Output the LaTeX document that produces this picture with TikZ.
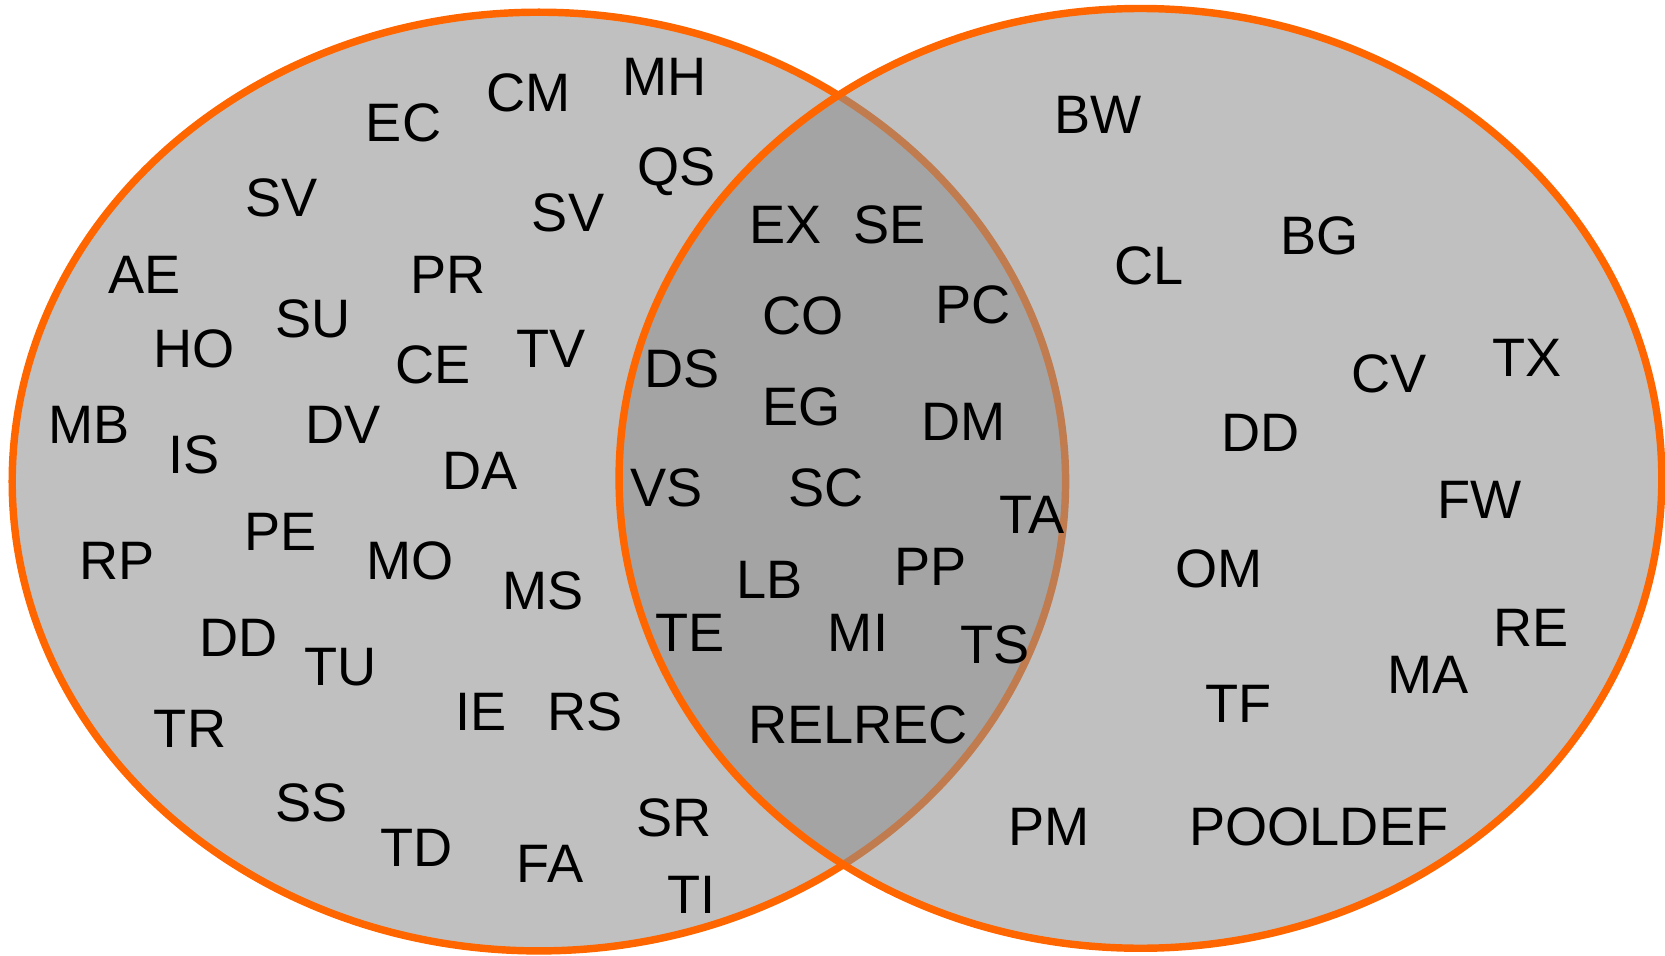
\documentclass[tikz,border=0pt]{standalone}
\usepackage{fontspec}
\setmainfont{Liberation Sans}
\definecolor{vorange}{HTML}{FF6600}
\definecolor{vfill}{gray}{0.555}
\begin{document}
\begin{tikzpicture}[x=1pt,y=-1pt,
  setshape/.style={fill=vfill,fill opacity=0.556,draw=vorange,draw opacity=1,line width=7pt},
  lbl/.style={inner sep=0pt,text height=36pt,text depth=0pt,font=\fontsize{51}{60}\selectfont}]
\useasboundingbox (0,0) rectangle (1568,900);
\path[setshape] (507.5,453.5) ellipse [x radius=496, y radius=442];
\path[setshape] (1074,450.5) ellipse [x radius=491, y radius=442.5];
% left only
\node[lbl] (ec) at (380,115) {EC};
\node[lbl] (cm) at (498,87) {CM};
\node[lbl] (mh) at (626,72) {MH};
\node[lbl] (sv1) at (265,186) {SV};
\node[lbl] (sv2) at (535,200) {SV};
\node[lbl] (qs) at (637,157) {QS};
\node[lbl] (ae) at (136,258) {AE};
\node[lbl] (pr) at (422,258) {PR};
\node[lbl] (su) at (295,300) {SU};
\node[lbl] (ho) at (183,328) {HO};
\node[lbl] (ce) at (408,343) {CE};
\node[lbl] (tv) at (519,328) {TV};
\node[lbl] (mb) at (84,400) {MB};
\node[lbl] (is) at (183,428) {IS};
\node[lbl] (dv) at (323,400) {DV};
\node[lbl] (da) at (452,443) {DA};
\node[lbl] (rp) at (110,528) {RP};
\node[lbl] (pe) at (264,500) {PE};
\node[lbl] (mo) at (386,528) {MO};
\node[lbl] (ms) at (511,556) {MS};
\node[lbl] (dd1) at (225,600) {DD};
\node[lbl] (tu) at (321,628) {TU};
\node[lbl] (tr) at (179,686) {TR};
\node[lbl] (ie) at (453,670) {IE};
\node[lbl] (rs) at (551,670) {RS};
\node[lbl] (ss) at (293,756) {SS};
\node[lbl] (td) at (392,798) {TD};
\node[lbl] (fa) at (518,813) {FA};
\node[lbl] (sr) at (635,770) {SR};
\node[lbl] (ti) at (651,842) {TI};
% intersection
\node[lbl] (ex) at (740,211) {EX};
\node[lbl] (se) at (838,211) {SE};
\node[lbl] (co) at (756,297) {CO};
\node[lbl] (pc) at (916,287) {PC};
\node[lbl] (ds) at (642,347) {DS};
\node[lbl] (eg) at (755,383) {EG};
\node[lbl] (dm) at (907,397) {DM};
\node[lbl] (vs) at (628,459) {VS};
\node[lbl] (sc) at (778,459) {SC};
\node[lbl] (ta) at (972,484) {TA};
\node[lbl] (lb) at (725,546) {LB};
\node[lbl] (pp) at (876,533) {PP};
\node[lbl] (te) at (650,596) {TE};
\node[lbl] (mi) at (808,596) {MI};
\node[lbl] (ts) at (937,607) {TS};
\node[lbl] (relrec) at (808,682) {RELREC};
% right only
\node[lbl] (bw) at (1034,108) {BW};
\node[lbl] (cl) at (1082,250) {CL};
\node[lbl] (bg) at (1243,222) {BG};
\node[lbl] (cv) at (1308,352) {CV};
\node[lbl] (tx) at (1438,337) {TX};
\node[lbl] (dd2) at (1187,407) {DD};
\node[lbl] (fw) at (1393,470) {FW};
\node[lbl] (om) at (1148,535) {OM};
\node[lbl] (re) at (1442,591) {RE};
\node[lbl] (ma) at (1345,635) {MA};
\node[lbl] (tf) at (1166,662) {TF};
\node[lbl] (pm) at (988,778) {PM};
\node[lbl] (pooldef) at (1242,778) {POOLDEF};
\end{tikzpicture}
\end{document}
